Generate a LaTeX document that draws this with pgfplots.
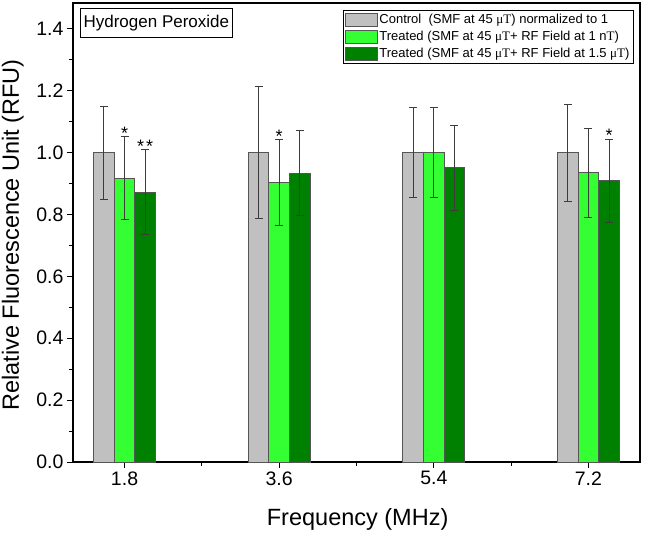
\documentclass[border=0pt]{standalone}
\usepackage{pgfplots}
\pgfplotsset{compat=1.18}
\usepackage{fontspec}
\setmainfont{Liberation Sans}
\newfontfamily\serif{Liberation Serif}
\definecolor{ctrl}{RGB}{192,192,192}
\definecolor{lg}{RGB}{51,255,51}
\definecolor{dg}{RGB}{0,128,0}
\definecolor{edge}{RGB}{85,85,85}
\definecolor{errc}{RGB}{60,60,60}
\newcommand{\muT}{{\serif μT}}
\pgfplotsset{myerr/.style={error bars/.cd, y dir=both, y explicit,
  error bar style={errc, line width=0.9pt},
  error mark options={rotate=90, mark size=4bp, errc, line width=0.9pt}}}
\begin{document}
\begin{tikzpicture}
\useasboundingbox (-73bp,-74bp) rectangle (572bp,462bp);
\begin{axis}[
  at={(0,0)}, anchor=south west,
  scale only axis, width=567bp, height=459bp,
  xmin=1.2, xmax=7.8, ymin=0, ymax=1.484,
  ybar, bar width=0.24,
  xtick={1.8,3.6,5.4,7.2}, minor xtick={2.7,4.5,6.3},
  ytick={0,0.2,0.4,0.6,0.8,1.0,1.2,1.4},
  minor ytick={0.1,0.3,0.5,0.7,0.9,1.1,1.3},
  yticklabel style={/pgf/number format/.cd,fixed,fixed zerofill,precision=1},
  xticklabel style={/pgf/number format/.cd,fixed,fixed zerofill,precision=1},
  /pgf/number format/assume math mode=true,
  tick label style={font=\fontsize{19.5bp}{22bp}\selectfont},
  tick align=outside, xtick pos=bottom, ytick pos=left,
  major tick length=6bp, minor tick length=3.5bp,
  every tick/.style={black, line width=1pt},
  axis line style={black, line width=1.2pt},
  xlabel={Frequency (MHz)}, ylabel={Relative Fluorescence Unit (RFU)},
  label style={font=\fontsize{23.5bp}{26bp}\selectfont},
  xlabel style={at={(axis description cs:0.502,-0.126)}, anchor=center},
  ylabel style={at={(axis description cs:-0.106,0.495)}, anchor=center},
  legend style={at={(rel axis cs:0.989,0.985)}, anchor=north east,
    font=\fontsize{13bp}{15bp}\selectfont, draw=black, line width=0.6pt,
    inner sep=2bp, row sep=2bp, cells={anchor=west}},
  legend image code/.code={\draw[#1,draw=edge,line width=0.6pt] (0bp,-6.5bp) rectangle (32bp,6.5bp);},
]
\addplot+[fill=ctrl, draw=edge, line width=0.8pt, bar shift=-0.24, myerr] coordinates {
  (1.8,1.0) +- (0,0.150)
  (3.6,1.0) +- (0,0.213)
  (5.4,1.0) +- (0,0.146)
  (7.2,1.0) +- (0,0.157)
};
\addlegendentry{Control\ \ (SMF at 45 \muT) normalized to 1}
\addplot+[fill=lg, draw=edge, line width=0.8pt, bar shift=0, myerr] coordinates {
  (1.8,0.918) +- (0,0.134)
  (3.6,0.903) +- (0,0.139)
  (5.4,1.0) +- (0,0.145)
  (7.2,0.935) +- (0,0.145)
};
\addlegendentry{Treated (SMF at 45 \muT+ RF Field at 1 n{\serif T})}
\addplot+[fill=dg, draw=edge, line width=0.8pt, bar shift=0.24, myerr] coordinates {
  (1.8,0.872) +- (0,0.137)
  (3.6,0.934) +- (0,0.137)
  (5.4,0.951) +- (0,0.138)
  (7.2,0.909) +- (0,0.135)
};
\addlegendentry{Treated (SMF at 45 \muT+ RF Field at 1.5 \muT)}
\node[draw=black, line width=0.6pt, anchor=north west, inner xsep=3.5bp, inner ysep=6.5bp, font=\fontsize{17bp}{19bp}\selectfont] at (rel axis cs:0.012,0.989) {Hydrogen Peroxide};
\node[font=\fontsize{18bp}{18bp}\selectfont, anchor=base, inner sep=0pt] at (axis cs:1.8,1.042) {*};
\node[font=\fontsize{18bp}{18bp}\selectfont, anchor=base, inner sep=0pt] at (axis cs:2.04,1.000) {*\kern2bp*};
\node[font=\fontsize{18bp}{18bp}\selectfont, anchor=base, inner sep=0pt] at (axis cs:3.6,1.034) {*};
\node[font=\fontsize{18bp}{18bp}\selectfont, anchor=base, inner sep=0pt] at (axis cs:7.44,1.036) {*};
\end{axis}
\end{tikzpicture}
\end{document}
